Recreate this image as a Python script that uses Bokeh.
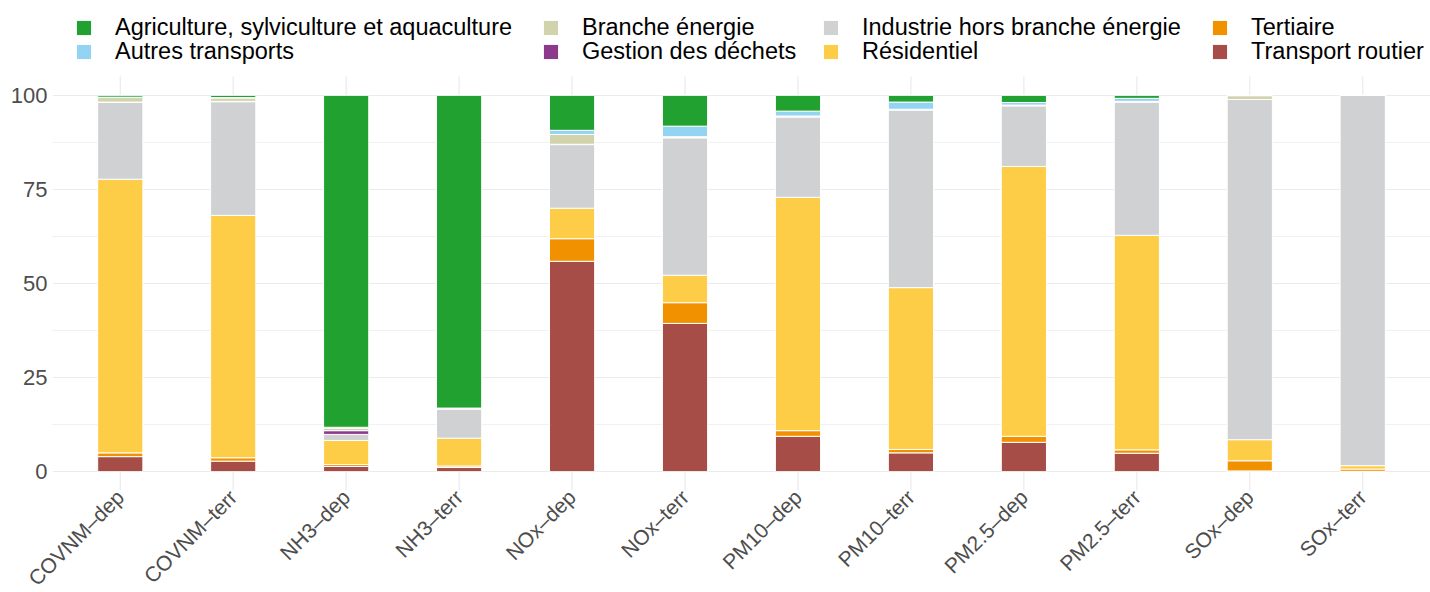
import math
from bokeh.plotting import figure
from bokeh.models import (ColumnDataSource, Range1d, FixedTicker, Legend, LegendItem)
from bokeh.embed import file_html
from bokeh.resources import INLINE

categories = ["COVNM–dep", "COVNM–terr", "NH3–dep", "NH3–terr", "NOx–dep", "NOx–terr",
              "PM10–dep", "PM10–terr", "PM2.5–dep", "PM2.5–terr", "SOx–dep", "SOx–terr"]

# stacking order bottom -> top
transport_routier   = [4.0, 2.8, 1.4, 1.1, 55.9, 39.4, 9.4, 5.0, 7.8, 4.9, 0.2, 0.1]
tertiaire           = [1.0, 0.9, 0.5, 0.4, 6.0, 5.5, 1.5, 0.9, 1.6, 0.9, 2.7, 0.6]
residentiel         = [72.7, 64.4, 6.4, 7.4, 8.1, 7.3, 62.0, 43.0, 71.7, 57.0, 5.6, 0.9]
industrie           = [20.4, 30.2, 1.6, 7.7, 16.9, 36.5, 21.3, 47.2, 16.1, 35.4, 90.4, 98.4]
gestion_dechets     = [0.1, 0.1, 1.0, 0.1, 0.1, 0.1, 0.1, 0.1, 0.1, 0.1, 0.0, 0.0]
branche_energie     = [1.2, 0.9, 0.6, 0.1, 2.6, 0.2, 0.2, 0.1, 0.1, 0.1, 1.0, 0.0]
autres_transports   = [0.1, 0.1, 0.3, 0.1, 1.1, 2.8, 1.3, 1.9, 0.7, 0.8, 0.05, 0.0]
agriculture         = [0.5, 0.6, 88.2, 83.1, 9.3, 8.2, 4.2, 1.8, 1.9, 0.8, 0.05, 0.0]

series_names = ["Transport routier", "Tertiaire", "Résidentiel", "Industrie hors branche énergie",
                "Gestion des déchets", "Branche énergie", "Autres transports",
                "Agriculture, sylviculture et aquaculture"]
series_values = [transport_routier, tertiaire, residentiel, industrie,
                 gestion_dechets, branche_energie, autres_transports, agriculture]
series_colors = ["#a64d48", "#f29100", "#fecd47", "#d0d1d3",
                 "#8e3a8c", "#d1d3ac", "#93d4f2", "#21a130"]

# legend order: alphabetical, filled column by column (2 rows)
legend_order = [7, 6, 5, 4, 3, 2, 1, 0]
legend_col_x = [22, 489, 769, 1158]     # pixel offsets of the 4 legend columns
legend_row_y = [449, 425]               # pixel offsets of the 2 legend rows

x = [i + 1 for i in range(len(categories))]
data = {"x": x}
keys = []
for i, vals in enumerate(series_values):
    k = "s%d" % i
    keys.append(k)
    data[k] = vals
source = ColumnDataSource(data)

FONT = "Liberation Sans"
PANEL_H = 414          # height of the data panel (y from -5 to 105)
TOP_H = 76             # room above the panel for the legend
Y0, Y1 = -5, 105
px_per_unit = PANEL_H / (Y1 - Y0)
y_top = Y1 + TOP_H / px_per_unit
GRID = "#ebebeb"

p = figure(frame_width=1378, frame_height=PANEL_H + TOP_H, output_backend="svg",
           toolbar_location=None,
           x_range=Range1d(0.4, len(categories) + 0.6), y_range=Range1d(Y0, y_top),
           min_border_left=52, min_border_right=0, min_border_top=0, min_border_bottom=0)
p.outline_line_color = None
p.background_fill_color = "white"
p.border_fill_color = "white"

# vertical grid lines limited to the data panel
p.xgrid.grid_line_color = None
p.segment(x0=x, y0=[Y0] * len(x), x1=x, y1=[Y1] * len(x), line_color=GRID,
          line_width=1.2, level="underlay")

renderers = p.vbar_stack(keys, x="x", width=0.4, source=source, color=series_colors,
                         line_color="white", line_width=1)

# axes
p.xaxis.ticker = FixedTicker(ticks=x)
p.xaxis.major_label_overrides = {xi: c for xi, c in zip(x, categories)}
p.xaxis.major_label_orientation = math.pi / 4
p.yaxis.ticker = FixedTicker(ticks=[0, 25, 50, 75, 100], minor_ticks=[12.5, 37.5, 62.5, 87.5])
for ax in (p.xaxis, p.yaxis):
    ax.axis_line_color = None
    ax.major_tick_line_color = None
    ax.minor_tick_line_color = None
    ax.major_tick_out = 0
    ax.major_tick_in = 0
    ax.minor_tick_out = 0
    ax.minor_tick_in = 0
    ax.major_label_text_font = FONT
    ax.major_label_text_color = "#4d4d4d"
p.yaxis.major_label_text_font_size = "22px"
p.xaxis.major_label_text_font_size = "21px"
p.yaxis.major_label_standoff = 5
p.xaxis.major_label_standoff = 3

p.ygrid.grid_line_color = GRID
p.ygrid.grid_line_width = 1.2
p.ygrid.minor_grid_line_color = GRID
p.ygrid.minor_grid_line_width = 0.7

for k, idx in enumerate(legend_order):
    col, row = k // 2, k % 2
    leg = Legend(items=[LegendItem(label=series_names[idx], renderers=[renderers[idx]])],
                 location=(legend_col_x[col], legend_row_y[row]),
                 padding=0, margin=0, spacing=0,
                 glyph_width=19, glyph_height=19, label_standoff=22,
                 label_text_font=FONT, label_text_font_size="23.5px",
                 label_text_color="black",
                 background_fill_alpha=0, border_line_color=None,
                 item_background_fill_alpha=0)
    p.add_layout(leg, "center")

open("out.html", "w").write(file_html(p, INLINE))
